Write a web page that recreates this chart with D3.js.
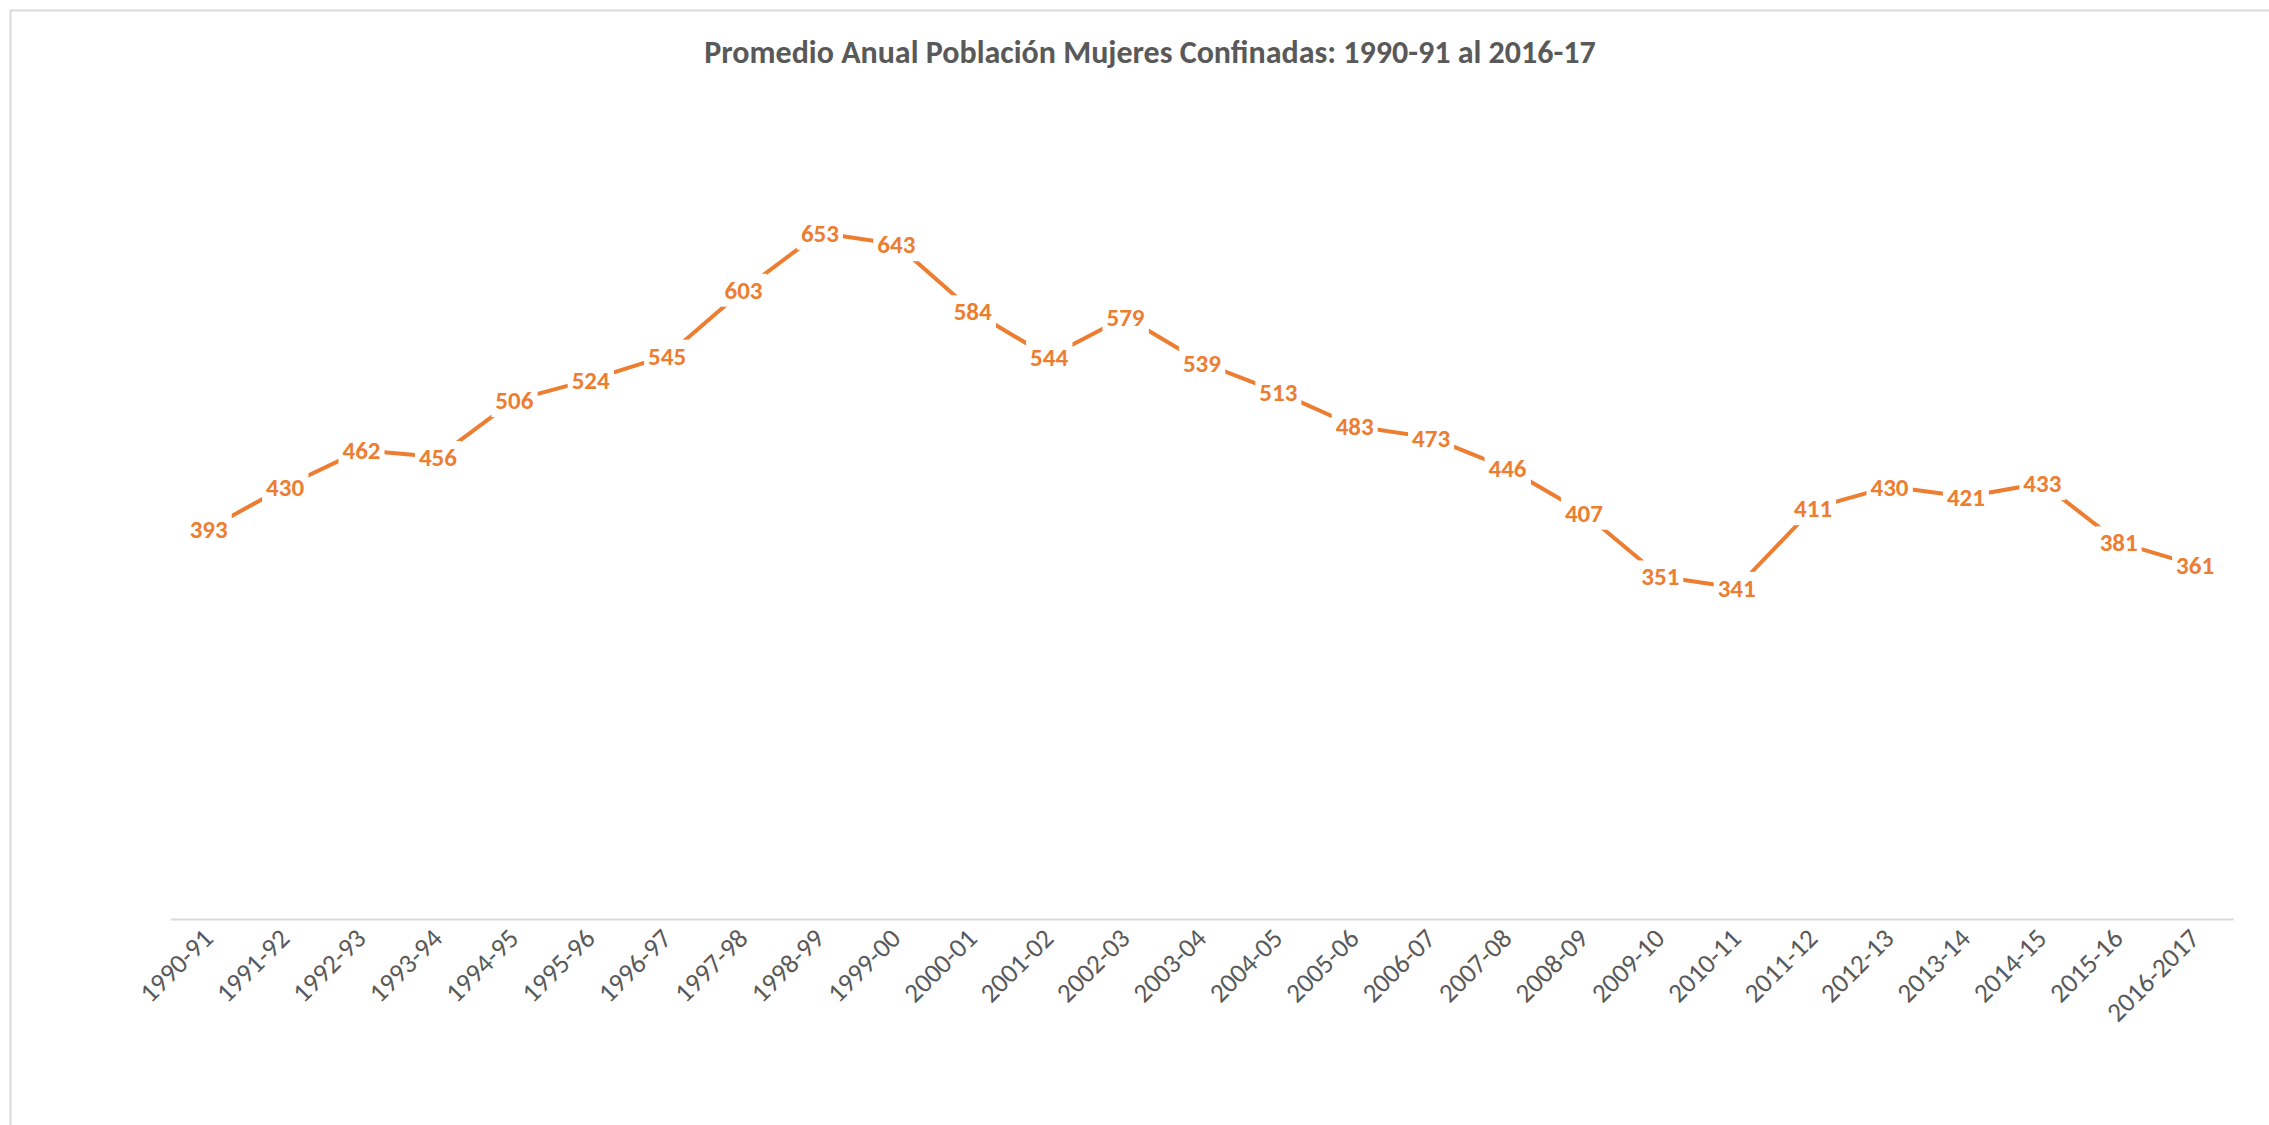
<!DOCTYPE html>
<html>
<head>
<meta charset="utf-8">
<script src="https://cdn.jsdelivr.net/npm/d3@7"></script>
<style>
  body { margin: 0; background: #fff; }
  svg { display: block; }
</style>
</head>
<body>
<div id="chart"></div>
<script>
var width = 2269,
    height = 1125;

// datos
var title = "Promedio Anual Población Mujeres Confinadas: 1990-91 al 2016-17";
var periodos = ["1990-91", "1991-92", "1992-93", "1993-94", "1994-95", "1995-96", "1996-97",
                "1997-98", "1998-99", "1999-00", "2000-01", "2001-02", "2002-03", "2003-04",
                "2004-05", "2005-06", "2006-07", "2007-08", "2008-09", "2009-10", "2010-11",
                "2011-12", "2012-13", "2013-14", "2014-15", "2015-16", "2016-2017"];
var poblacion = [393, 430, 462, 456, 506, 524, 545, 603, 653, 643, 584, 544, 579, 539,
                 513, 483, 473, 446, 407, 351, 341, 411, 430, 421, 433, 381, 361];

var fontStack = "Carlito, Lato, 'Open Sans', sans-serif";
var orange = "#ED7D31";

var svg = d3.select("#chart")
    .append("svg")
    .attr("width", width)
    .attr("height", height);

// marco del grafico (solo se ven borde superior e izquierdo)
svg.append("rect")
    .attr("x", 10.5)
    .attr("y", 10.5)
    .attr("width", width + 20)
    .attr("height", height + 20)
    .attr("fill", "#fff")
    .attr("stroke", "#D9D9D9")
    .attr("stroke-width", 2);

svg.append("text")
    .attr("x", 1150)
    .attr("y", 63)
    .attr("text-anchor", "middle")
    .style("font-family", fontStack)
    .style("font-weight", "bold")
    .style("font-size", "32px")
    .attr("fill", "#595959")
    .text(title);

var x = d3.scaleBand()
    .domain(periodos)
    .range([170.5, 2233.3])
    .padding(0);

var y = d3.scaleLinear()
    .domain([50, 700])
    .range([919, 179.3]);

var xAxis = d3.axisBottom(x).tickSize(0).tickPadding(0);

var gx = svg.append("g")
    .attr("transform", "translate(0,919)")
    .call(xAxis);

gx.select(".domain")
    .attr("stroke", "#D9D9D9")
    .attr("stroke-width", 2);

gx.selectAll(".tick text")
    .attr("x", 0)
    .attr("y", 0)
    .attr("dy", 0)
    .attr("text-anchor", "end")
    .attr("transform", "translate(6,21) rotate(-45)")
    .style("font-family", fontStack)
    .style("font-size", "27px")
    .attr("fill", "#595959");

var cx = function(d, i) { return x(periodos[i]) + x.bandwidth() / 2; };

var line = d3.line()
    .x(function(d, i) { return cx(d, i); })
    .y(function(d) { return y(d); });

svg.append("path")
    .datum(poblacion)
    .attr("d", line)
    .attr("fill", "none")
    .attr("stroke", orange)
    .attr("stroke-width", 4)
    .attr("stroke-linejoin", "round");

// etiquetas de datos centradas sobre el punto
var labels = svg.selectAll(".label")
    .data(poblacion)
    .enter().append("g")
    .attr("class", "label")
    .attr("transform", function(d, i) { return "translate(" + cx(d, i) + "," + y(d) + ")"; });

labels.append("rect").attr("fill", "#fff");

labels.append("text")
    .attr("text-anchor", "middle")
    .attr("dy", "0.36em")
    .style("font-family", fontStack)
    .style("font-weight", "bold")
    .style("font-size", "25px")
    .attr("fill", orange)
    .text(function(d) { return d; });

labels.each(function() {
    var g = d3.select(this);
    var b = g.select("text").node().getBBox();
    g.select("rect")
        .attr("x", b.x - 4)
        .attr("y", b.y - 1)
        .attr("width", b.width + 8)
        .attr("height", b.height + 2);
});
</script>
</body>
</html>
